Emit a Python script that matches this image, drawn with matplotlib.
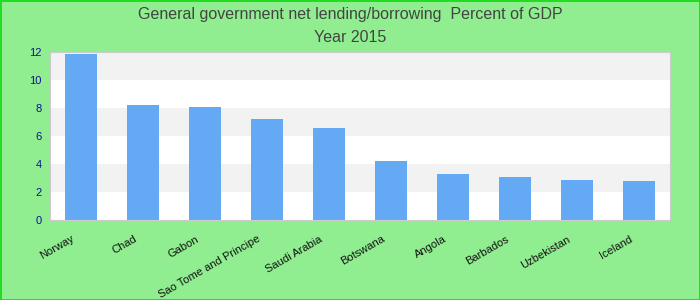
import numpy as np
import matplotlib.pyplot as plt
import matplotlib.transforms as mtransforms

paises = ['Norway', 'Chad', 'Gabon', 'Sao Tome and Principe', 'Saudi Arabia',
          'Botswana', 'Angola', 'Barbados', 'Uzbekistan', 'Iceland']
valores = [11.85, 8.2, 8.05, 7.2, 6.6, 4.2, 3.3, 3.1, 2.85, 2.8]
yticks = [0, 2, 4, 6, 8, 10, 12]

plt.rcParams['font.family'] = ['Liberation Sans', 'DejaVu Sans']

fig = plt.figure(figsize=(7, 3), dpi=100, facecolor='#90ee90',
                 edgecolor='#22dd22', linewidth=2)
ax = fig.add_axes([50/700, 1 - 220/300, 620/700, 168/300])
ax.set_facecolor('white')

# faixas alternadas
for i in range(0, len(yticks) - 1):
    if i % 2 == 1:
        ax.axhspan(yticks[i], yticks[i + 1], color='#f2f2f2', zorder=0, lw=0)

x = np.arange(len(paises))
ax.bar(x, valores, width=0.52, color='#63a9f4', zorder=2)

ax.set_xlim(-0.5, len(paises) - 0.5)
ax.set_ylim(0, 12)
ax.set_yticks(yticks)
ax.set_yticklabels([str(v) for v in yticks], color='#10109a', fontsize=8)
ax.set_xticks(x)
ax.set_xticklabels(paises, rotation=30, ha='right', rotation_mode='anchor',
                   fontsize=8, color='#111111')
ax.tick_params(length=0, pad=6)
ax.tick_params(axis='x', pad=10)

# desloca os rótulos do eixo x um pouco para a esquerda
desloc = mtransforms.ScaledTranslation(-7/72, 0, fig.dpi_scale_trans)
for lbl in ax.get_xticklabels():
    lbl.set_transform(lbl.get_transform() + desloc)

for s in ax.spines.values():
    s.set_color('#cccccc')

fig.text(0.5, 1 - 14/300, 'General government net lending/borrowing  Percent of GDP',
         ha='center', va='center', fontsize=11.5, color='#444444')
fig.text(0.5, 1 - 37/300, 'Year 2015', ha='center', va='center',
         fontsize=11.5, color='#444444')

fig.savefig('out.png', dpi=100, facecolor=fig.get_facecolor(),
            edgecolor=fig.get_edgecolor())
